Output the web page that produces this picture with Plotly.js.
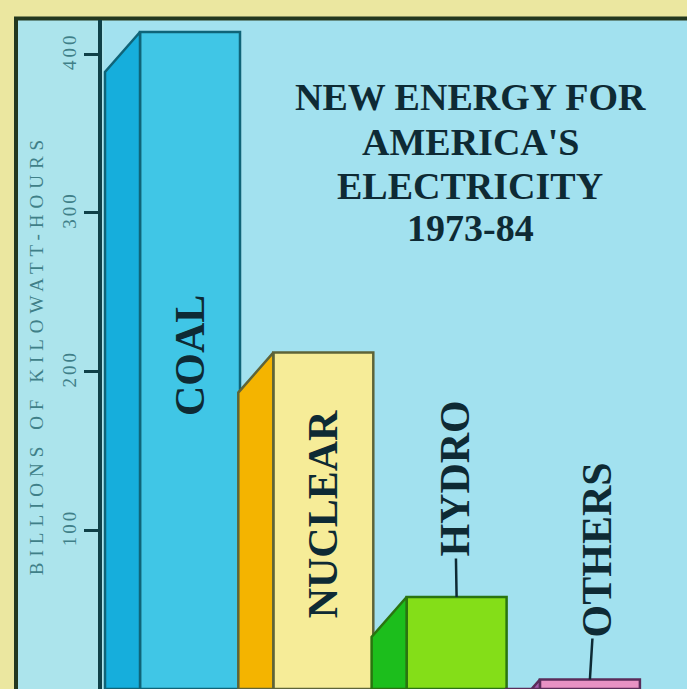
<!DOCTYPE html>
<html>
<head>
<meta charset="utf-8">
<script src="https://cdn.plot.ly/plotly-3.0.1.min.js"></script>
<style>
  html, body { margin: 0; padding: 0; background: #ebe7a0; }
  #chart { width: 687px; height: 689px; }
</style>
</head>
<body>
<div id="chart"></div>
<script>
// ---- data ----
const categories = ['COAL', 'NUCLEAR', 'HYDRO', 'OTHERS'];
const values = [414, 212, 58, 6];            // billions of kilowatt-hours, 1973-84
const yTickVals = [100, 200, 300, 400];
const yTickText = ['100', '200', '300', '400'];
const titleLines = ['NEW ENERGY FOR', "AMERICA'S", 'ELECTRICITY', '1973-84'];
const yAxisTitle = 'BILLIONS OF KILOWATT-HOURS';

// ---- styles ----
const frontColors = ['#40c6e6', '#f6ec98', '#84de18', '#e892c4'];
const sideColors  = ['#16aedc', '#f4b400', '#1cbe1c', '#a45aa8'];
const edgeColors  = ['#0f6478', '#5e6438', '#2a7410', '#5a2c5a'];
const inkColor = '#0e2a34';
const axisInk = '#0f4048';
const tickInk = '#3f7f88';

// ---- geometry (pixels) ----
const W = 687, H = 689, ML = 102, MR = 0, MT = 20, MB = 0;
const plotW = W - ML - MR, plotH = H - MT - MB;
const pxPerY = 1.587;             // pixels per billion kWh
const pxPerX = 133.3;             // pixels per category step
const firstCenterPx = 190;
const xMin = -(firstCenterPx - ML) / pxPerX;
const xMax = xMin + plotW / pxPerX;
const yMax = plotH / pxPerY;
const barW = 100 / pxPerX;
const depthX = 35 / pxPerX;
const depthY = 40 / pxPerY;

const px2paperX = px => (px - ML) / plotW;
const px2paperY = py => (H - MB - py) / plotH;
const py2data = py => (H - MB - py) / pxPerY;

// ---- traces ----
const traces = [];
values.forEach((v, i) => {
  const x0 = i - barW / 2;
  traces.push({
    type: 'scatter', mode: 'lines', fill: 'toself',
    x: [x0 - depthX, x0 - depthX, x0, x0, x0 - depthX],
    y: [0, v - depthY, v, 0, 0],
    fillcolor: sideColors[i],
    line: { color: edgeColors[i], width: 2.5 },
    hoverinfo: 'skip', showlegend: false
  });
});
traces.push({
  type: 'bar',
  x: categories.map((c, i) => i),
  y: values,
  width: barW,
  text: categories,
  textposition: 'none',
  marker: { color: frontColors, line: { color: edgeColors, width: 2.5 } },
  hovertemplate: '%{text}: %{y}<extra></extra>',
  showlegend: false
});

// ---- annotations ----
const labelFont = { family: 'Liberation Serif, Times New Roman, serif', size: 42, color: inkColor };
const annotations = [];
annotations.push({ xref: 'x', yref: 'y', x: 0, y: py2data(356), text: '<b>' + categories[0] + '</b>',
  textangle: -90, showarrow: false, font: labelFont });
annotations.push({ xref: 'x', yref: 'y', x: 1, y: py2data(514), text: '<b>' + categories[1] + '</b>',
  textangle: -90, showarrow: false, font: labelFont });
annotations.push({ xref: 'x', yref: 'y', x: 2, y: values[2], text: '<b>' + categories[2] + '</b>',
  textangle: -90, showarrow: true, arrowhead: 0, arrowwidth: 2.5, arrowcolor: inkColor,
  ax: -2, ay: -118, standoff: 0, font: labelFont });
annotations.push({ xref: 'x', yref: 'y', x: 3, y: values[3], text: '<b>' + categories[3] + '</b>',
  textangle: -90, showarrow: true, arrowhead: 0, arrowwidth: 2.5, arrowcolor: inkColor,
  ax: 8, ay: -130, standoff: 0, font: labelFont });
const titleY = [97, 142, 186, 228];
titleLines.forEach((t, k) => {
  annotations.push({ xref: 'paper', yref: 'paper', x: px2paperX(470), y: px2paperY(titleY[k]),
    xanchor: 'center', yanchor: 'middle', text: '<b>' + t + '</b>', showarrow: false,
    font: { family: 'Liberation Serif, Times New Roman, serif', size: 38, color: inkColor } });
});

// ---- shapes (panel & frame) ----
const shapes = [
  { type: 'rect', xref: 'paper', yref: 'paper', x0: px2paperX(16), x1: px2paperX(700),
    y0: px2paperY(700), y1: px2paperY(18.5), fillcolor: '#ace4ec',
    line: { color: '#23381f', width: 4 }, layer: 'below' },
  { type: 'rect', xref: 'paper', yref: 'paper', x0: px2paperX(104), x1: px2paperX(700),
    y0: px2paperY(700), y1: px2paperY(21), fillcolor: '#a2e1ef',
    line: { width: 0 }, layer: 'below' }
];

const layout = {
  width: W, height: H,
  margin: { l: ML, r: MR, t: MT, b: MB, pad: 0 },
  paper_bgcolor: '#ebe7a0',
  plot_bgcolor: 'rgba(0,0,0,0)',
  showlegend: false,
  xaxis: { range: [xMin, xMax], showgrid: false, zeroline: false, showticklabels: false,
    showline: false, ticks: '', fixedrange: true },
  yaxis: { range: [0, yMax], showgrid: false, zeroline: false,
    showline: true, linecolor: axisInk, linewidth: 4,
    ticks: 'outside', ticklen: 14, tickwidth: 3, tickcolor: axisInk,
    tickvals: yTickVals, ticktext: yTickText, tickangle: -90,
    tickfont: { family: 'Liberation Serif, serif', size: 19, color: tickInk },
    title: { text: yAxisTitle, standoff: 12,
      font: { family: 'Liberation Serif, serif', size: 19, color: tickInk } },
    fixedrange: true },
  shapes: shapes,
  annotations: annotations,
  bargap: 0
};

Plotly.newPlot('chart', traces, layout, { displayModeBar: false, staticPlot: true }).then(() => {
  document.querySelectorAll('#chart .ytitle').forEach(el => { el.style.letterSpacing = '6px'; });
  document.querySelectorAll('#chart .ytick text').forEach(el => { el.style.letterSpacing = '3px'; });
});
</script>
</body>
</html>
